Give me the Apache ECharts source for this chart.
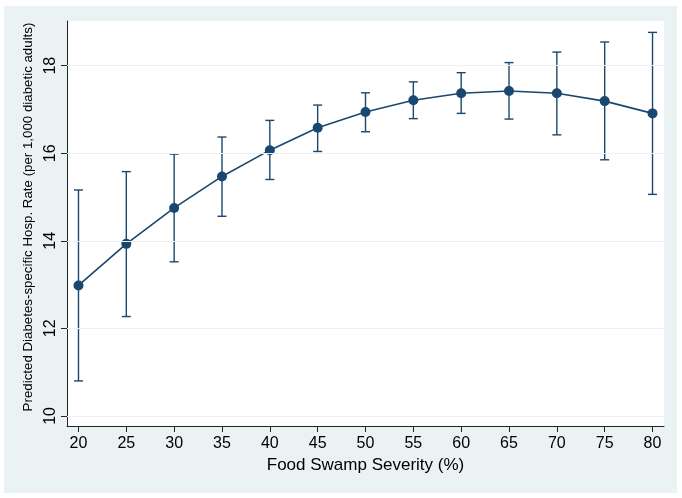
<!DOCTYPE html>
<html>
<head>
<meta charset="utf-8">
<script src="https://cdn.jsdelivr.net/npm/echarts@6/dist/echarts.min.js"></script>
<style>
html,body{margin:0;padding:0;background:#ffffff;}
#chart{width:682px;height:498px;}
</style>
</head>
<body>
<div id="chart"></div>
<script>
// Data
var severity = [20, 25, 30, 35, 40, 45, 50, 55, 60, 65, 70, 75, 80];
var predicted = [12.98, 13.93, 14.75, 15.47, 16.07, 16.58, 16.94, 17.21, 17.37, 17.42, 17.37, 17.19, 16.91];
var lowerCI = [10.80, 12.27, 13.52, 14.56, 15.40, 16.04, 16.49, 16.79, 16.91, 16.78, 16.42, 15.85, 15.06];
var upperCI = [15.16, 15.58, 15.98, 16.37, 16.75, 17.10, 17.38, 17.63, 17.84, 18.07, 18.31, 18.54, 18.76];
var xTicks = [20, 25, 30, 35, 40, 45, 50, 55, 60, 65, 70, 75, 80];
var yTicks = [10, 12, 14, 16, 18];
var xTitle = 'Food Swamp Severity (%)';
var yTitle = 'Predicted Diabetes-specific Hosp. Rate (per 1,000 diabetic adults)';

var FONT = '"Liberation Sans", Arial, Helvetica, sans-serif';
var NAVY = '#1a476f';
var BG = '#eaf2f3';

var chart = echarts.init(document.getElementById('chart'), null, {renderer: 'canvas'});

var option = {
  animation: false,
  backgroundColor: '#ffffff',
  graphic: [{
    type: 'rect',
    z: -10,
    silent: true,
    shape: {x: 4, y: 6, width: 673, height: 487},
    style: {fill: BG}
  }],
  grid: {
    left: 67, right: 18, top: 21, bottom: 72,
    show: true, backgroundColor: '#ffffff', borderWidth: 0
  },
  xAxis: {
    type: 'value',
    min: 18.8, max: 81.2,
    name: xTitle,
    nameLocation: 'middle',
    nameGap: 30,
    nameTextStyle: {fontFamily: FONT, fontSize: 17, color: '#000'},
    axisLine: {show: true, onZero: false, lineStyle: {color: '#222', width: 1}},
    axisTick: {show: true, customValues: xTicks, length: 6, lineStyle: {color: '#222'}},
    axisLabel: {customValues: xTicks, fontFamily: FONT, fontSize: 16, color: '#000', margin: 10},
    splitLine: {show: false}
  },
  yAxis: {
    type: 'value',
    min: 9.77, max: 19.02,
    name: yTitle,
    nameLocation: 'middle',
    nameRotate: 90,
    nameGap: 31,
    nameTextStyle: {fontFamily: FONT, fontSize: 13.3, color: '#000', padding: [0, 0, 0, 13]},
    axisLine: {show: true, onZero: false, lineStyle: {color: '#222', width: 1}},
    axisTick: {show: true, customValues: yTicks, length: 6, lineStyle: {color: '#222'}},
    axisLabel: {customValues: yTicks, rotate: 90, fontFamily: FONT, fontSize: 16, color: '#000', margin: 8},
    splitLine: {show: false}
  },
  series: [
    {
      type: 'scatter',
      data: [],
      z: 0,
      silent: true,
      markLine: {
        silent: true,
        symbol: ['none', 'none'],
        label: {show: false},
        lineStyle: {color: BG, type: 'solid', width: 1},
        emphasis: {disabled: true},
        data: yTicks.map(function (v) { return {yAxis: v}; })
      }
    },
    {
      type: 'custom',
      z: 2,
      silent: true,
      data: severity.map(function (x, i) { return [x, lowerCI[i], upperCI[i]]; }),
      encode: {x: 0, y: [1, 2]},
      renderItem: function (params, api) {
        var x = api.value(0);
        var lo = api.coord([x, api.value(1)]);
        var hi = api.coord([x, api.value(2)]);
        var hw = 4.5;
        var st = {stroke: NAVY, lineWidth: 1.4, fill: null};
        return {
          type: 'group',
          children: [
            {type: 'line', shape: {x1: lo[0], y1: lo[1], x2: hi[0], y2: hi[1]}, style: st},
            {type: 'line', shape: {x1: lo[0] - hw, y1: lo[1], x2: lo[0] + hw, y2: lo[1]}, style: st},
            {type: 'line', shape: {x1: hi[0] - hw, y1: hi[1], x2: hi[0] + hw, y2: hi[1]}, style: st}
          ]
        };
      }
    },
    {
      type: 'line',
      z: 3,
      silent: true,
      data: severity.map(function (x, i) { return [x, predicted[i]]; }),
      symbol: 'circle',
      symbolSize: 10,
      lineStyle: {color: NAVY, width: 1.6},
      itemStyle: {color: NAVY, borderWidth: 0}
    }
  ]
};
chart.setOption(option);
</script>
</body>
</html>
